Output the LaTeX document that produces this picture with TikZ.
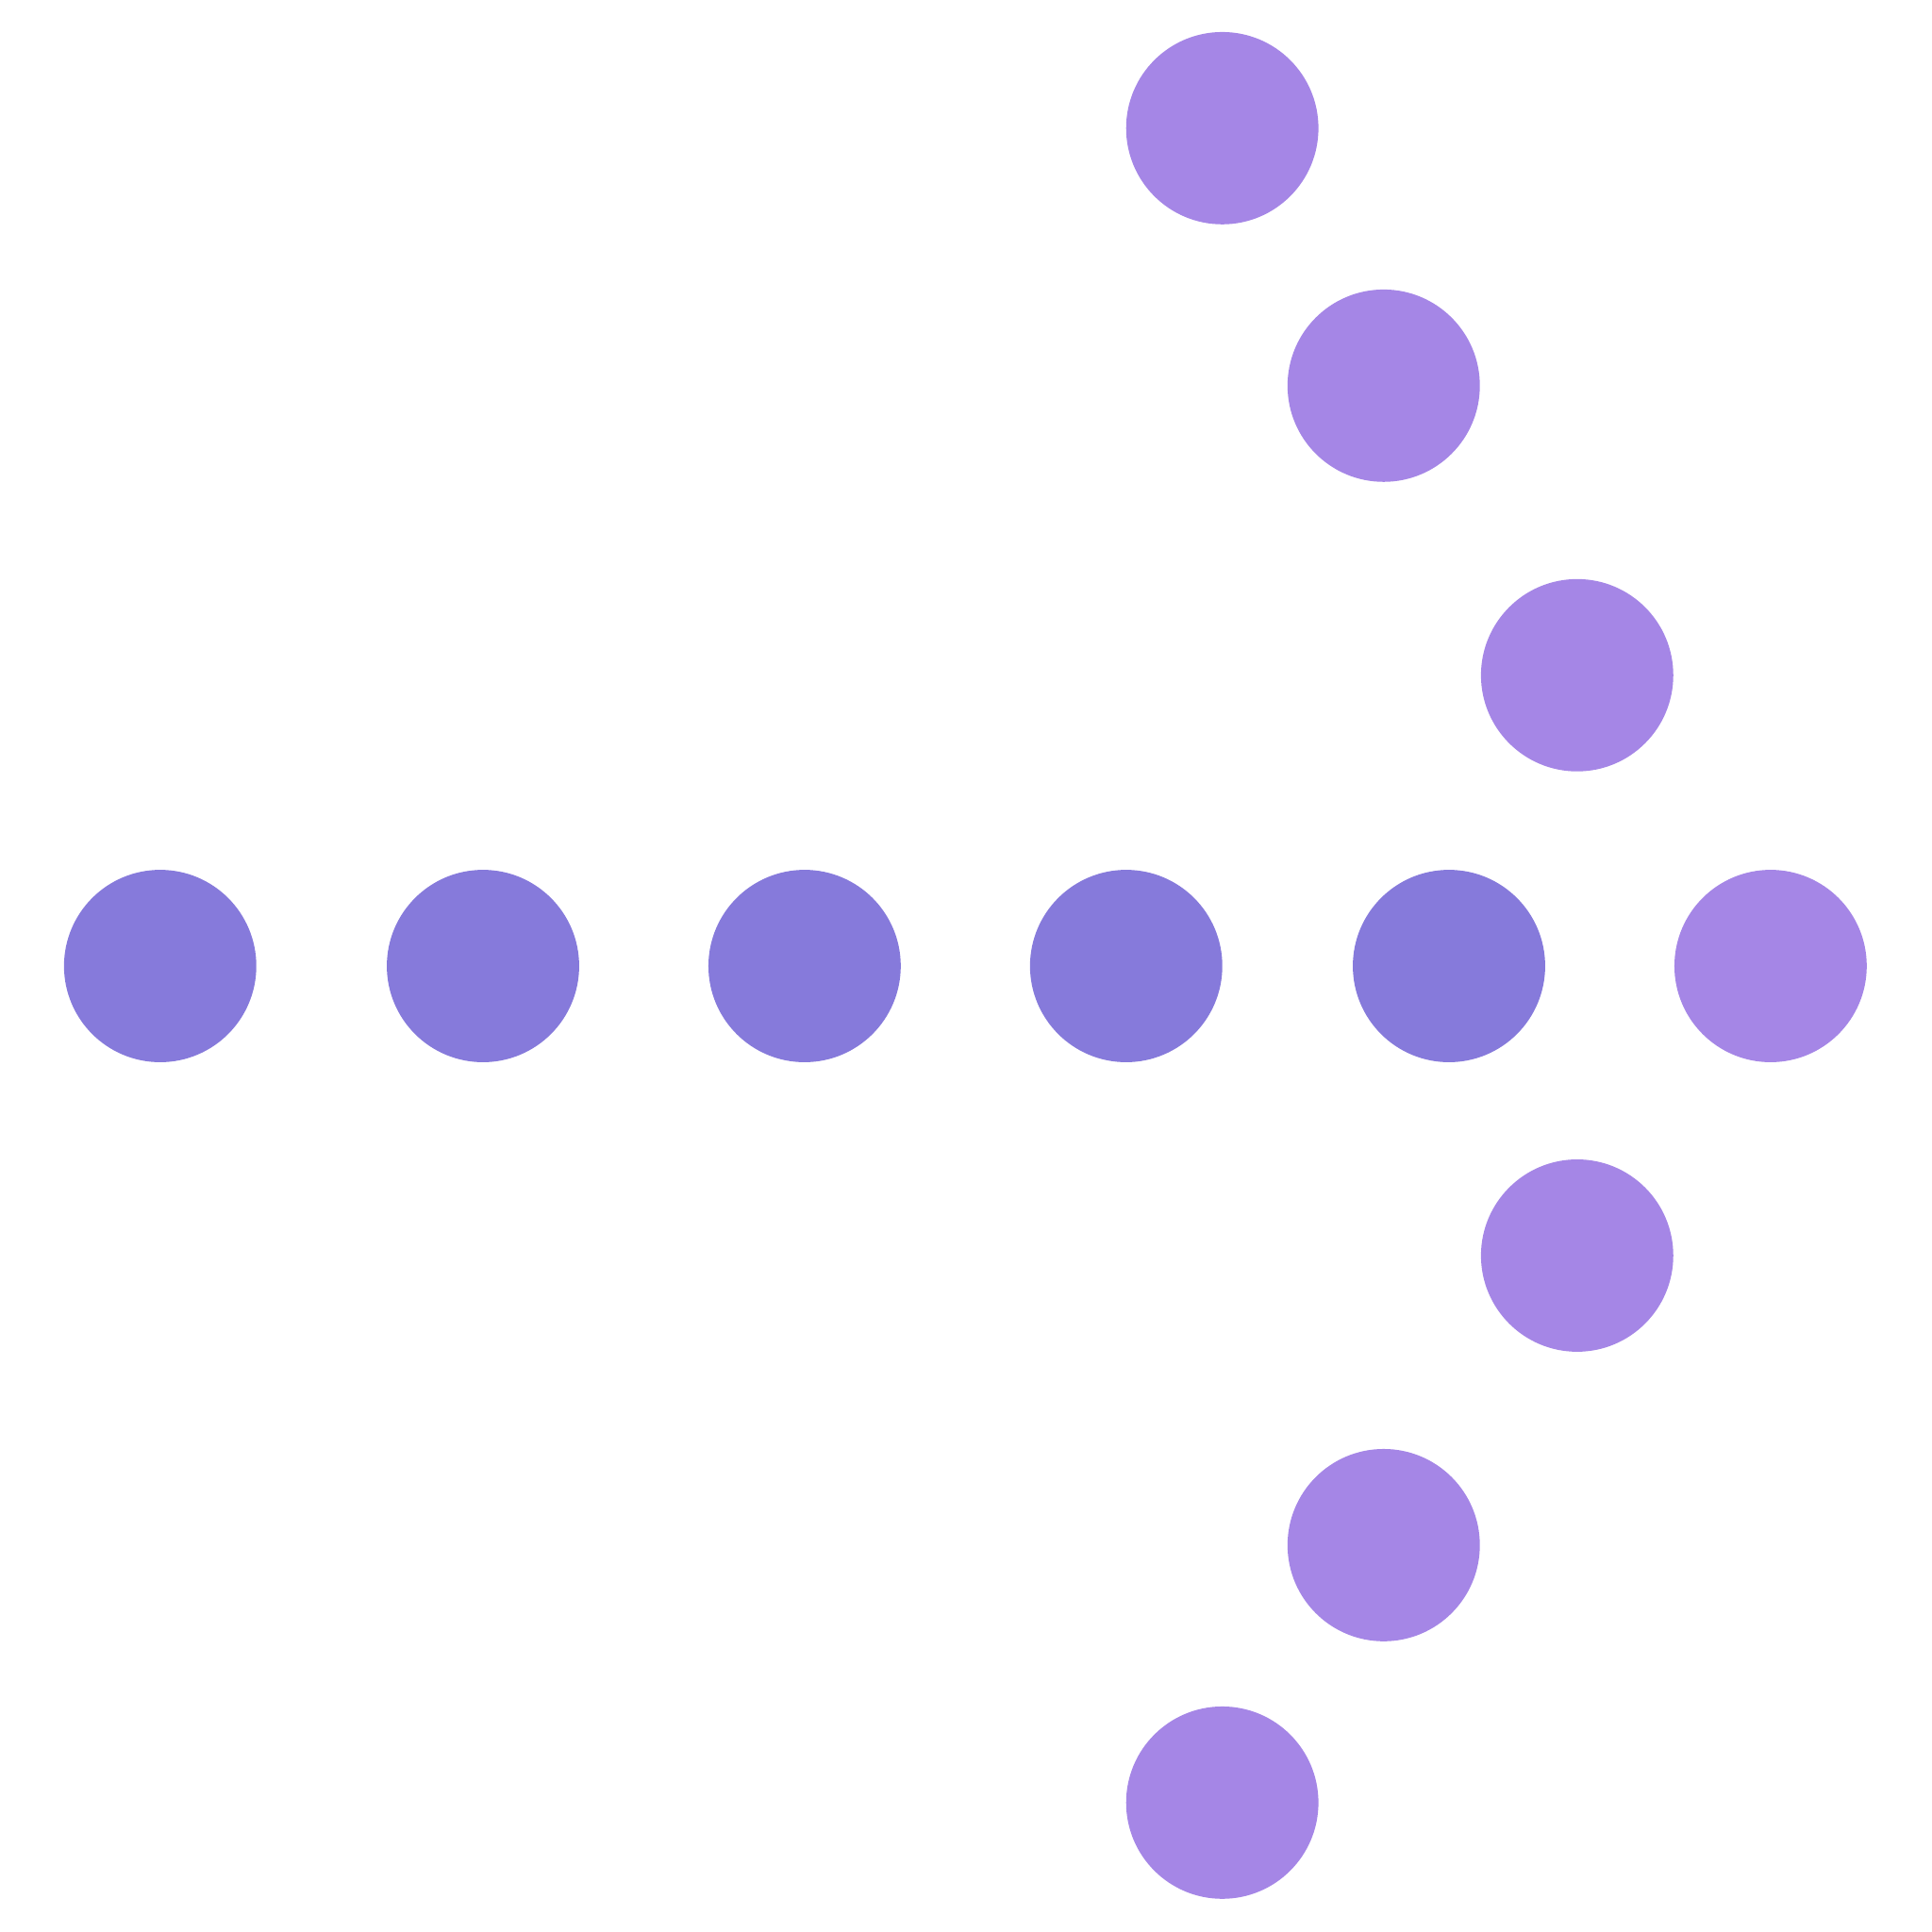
\documentclass[tikz,border=0pt]{standalone}
\begin{document}
\begin{tikzpicture}[x=0.01cm,y=-0.01cm]
\definecolor{dotA}{HTML}{867ADB}
\definecolor{dotB}{HTML}{A586E6}
\tikzset{dotstyle/.style={circle,minimum size=1.56cm,inner sep=0pt}}
\useasboundingbox (0,0) rectangle (1568,1568);
\foreach \x/\n in {130/a,392/b,653/c,914/d,1176/e}
  \node[dotstyle,fill=dotA] (\n) at (\x,784) {};
\foreach \x/\y/\n in {1437/784/f,992/104/g,1123/313/h,1280/548/i,1280/1019/j,1123/1254/k,992/1463/l}
  \node[dotstyle,fill=dotB] (\n) at (\x,\y) {};
\end{tikzpicture}
\end{document}
